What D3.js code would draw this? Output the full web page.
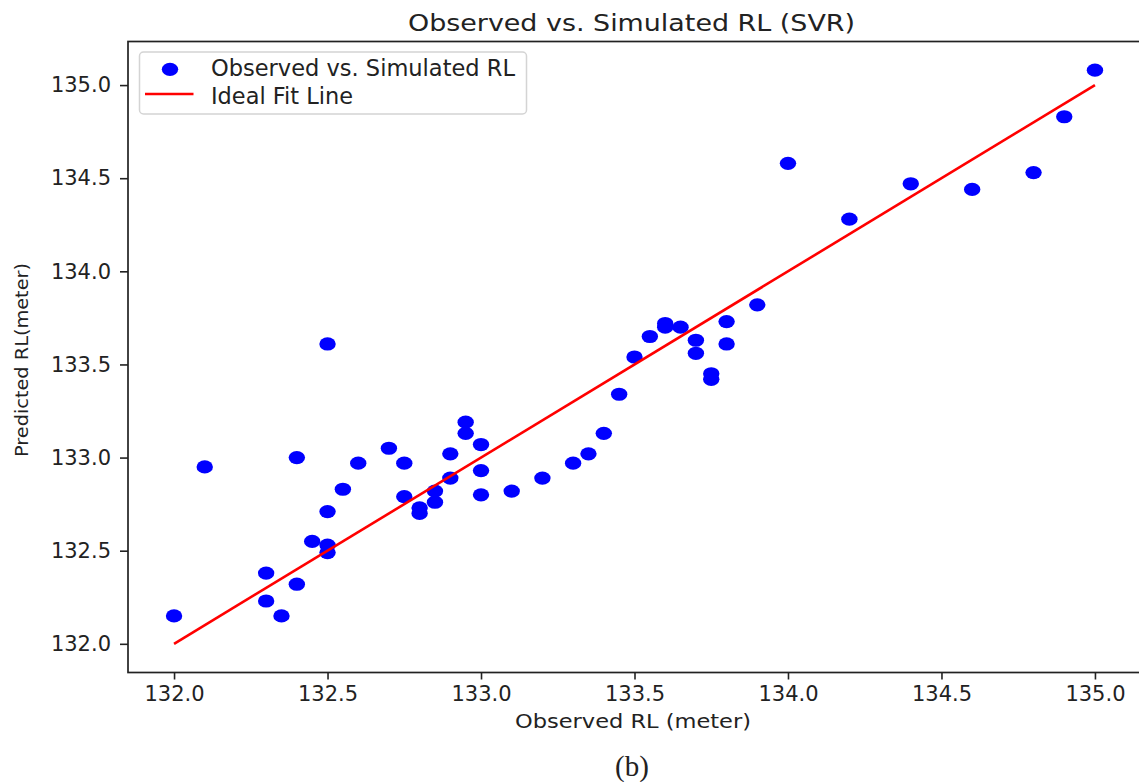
<!DOCTYPE html>
<html>
<head>
<meta charset="utf-8">
<script src="https://cdn.jsdelivr.net/npm/d3@7"></script>
<style>
  html, body { margin: 0; padding: 0; background: #fff; }
  svg { display: block; }
  text { font-family: "DejaVu Sans", sans-serif; fill: #222; }
</style>
</head>
<body>
<script>
// Observed water level (RL) vs. SVR-simulated water level, in metres
const observed = [
  132.0, 132.1, 132.3, 132.3, 132.35, 132.4, 132.4, 132.45, 132.5, 132.5,
  132.5, 132.5, 132.55, 132.6, 132.7, 132.75, 132.75, 132.8, 132.8, 132.85,
  132.85, 132.9, 132.9, 132.95, 132.95, 133.0, 133.0, 133.0, 133.1, 133.2,
  133.3, 133.35, 133.4, 133.45, 133.5, 133.55, 133.6, 133.6, 133.65, 133.7,
  133.7, 133.75, 133.75, 133.8, 133.8, 133.9, 134.0, 134.2, 134.4, 134.6,
  134.8, 134.9, 135.0
];
const predicted = [
  132.15, 132.95, 132.38, 132.23, 132.15, 133.0, 132.32, 132.55, 133.61, 132.71,
  132.53, 132.49, 132.83, 132.97, 133.05, 132.97, 132.79, 132.73, 132.70, 132.82,
  132.76, 133.02, 132.89, 133.19, 133.13, 133.07, 132.93, 132.80, 132.82, 132.89,
  132.97, 133.02, 133.13, 133.34, 133.54, 133.65, 133.72, 133.70, 133.70, 133.63,
  133.56, 133.45, 133.42, 133.73, 133.61, 133.82, 134.58, 134.28, 134.47, 134.44,
  134.53, 134.83, 135.08
];
// Ideal 1:1 fit line end points
const idealLine = [132.0, 135.0];
const xTicks = [132.0, 132.5, 133.0, 133.5, 134.0, 134.5, 135.0];
const yTicks = [132.0, 132.5, 133.0, 133.5, 134.0, 134.5, 135.0];
const legendLabels = ["Observed vs. Simulated RL", "Ideal Fit Line"];

const W = 1139, H = 782;
const plot = { left: 128, right: 1141, top: 41.5, bottom: 672.5 };

const svg = d3.select("body").append("svg")
  .attr("width", W).attr("height", H)
  .attr("viewBox", `0 0 ${W} ${H}`);
svg.append("rect").attr("width", W).attr("height", H).attr("fill", "#fff");

// Axis limits with 5% padding around the data range
const xAll = observed.concat(idealLine);
const yAll = predicted.concat(idealLine);
const pad = (lo, hi) => { const m = (hi - lo) * 0.05; return [lo - m, hi + m]; };
const x = d3.scaleLinear().domain(pad(d3.min(xAll), d3.max(xAll))).range([plot.left, plot.right]);
const y = d3.scaleLinear().domain(pad(d3.min(yAll), d3.max(yAll))).range([plot.bottom, plot.top]);

const fmt = d3.format(".1f");

// X axis
const gx = svg.append("g")
  .attr("transform", `translate(0,${plot.bottom})`)
  .call(d3.axisBottom(x).tickValues(xTicks).tickFormat(fmt).tickSize(7).tickPadding(7));
gx.select(".domain").remove();
gx.selectAll(".tick line").attr("stroke", "#222").attr("stroke-width", 1.6);
gx.selectAll(".tick text").style("font-size", "21px").attr("fill", "#222");

// Y axis
const gy = svg.append("g")
  .attr("transform", `translate(${plot.left},0)`)
  .call(d3.axisLeft(y).tickValues(yTicks).tickFormat(fmt).tickSize(8).tickPadding(9));
gy.select(".domain").remove();
gy.selectAll(".tick line").attr("stroke", "#222").attr("stroke-width", 1.6);
gy.selectAll(".tick text").style("font-size", "21px").attr("fill", "#222");

// Axes frame
svg.append("rect")
  .attr("x", plot.left).attr("y", plot.top)
  .attr("width", plot.right - plot.left).attr("height", plot.bottom - plot.top)
  .attr("fill", "none").attr("stroke", "#222").attr("stroke-width", 1.7);

// Scatter points
svg.append("g").selectAll("ellipse")
  .data(observed.map((o, i) => [o, predicted[i]]))
  .join("ellipse")
  .attr("cx", d => x(d[0])).attr("cy", d => y(d[1]))
  .attr("rx", 8.2).attr("ry", 6.6)
  .attr("fill", "#0000ff");

// Ideal fit line
svg.append("line")
  .attr("x1", x(idealLine[0])).attr("y1", y(idealLine[0]))
  .attr("x2", x(idealLine[1])).attr("y2", y(idealLine[1]))
  .attr("stroke", "#ff0000").attr("stroke-width", 2.6);

// Title
svg.append("text")
  .attr("x", 631.5).attr("y", 30.5)
  .attr("text-anchor", "middle")
  .attr("textLength", 447).attr("lengthAdjust", "spacingAndGlyphs")
  .style("font-size", "23px")
  .text("Observed vs. Simulated RL (SVR)");

// Axis labels
svg.append("text")
  .attr("x", 633).attr("y", 728)
  .attr("text-anchor", "middle")
  .attr("textLength", 236).attr("lengthAdjust", "spacingAndGlyphs")
  .style("font-size", "19.5px")
  .text("Observed RL (meter)");

svg.append("text")
  .attr("transform", "translate(28,360) rotate(-90)")
  .attr("text-anchor", "middle")
  .attr("textLength", 194).attr("lengthAdjust", "spacingAndGlyphs")
  .style("font-size", "18px")
  .text("Predicted RL(meter)");

// Legend
const lg = svg.append("g");
lg.append("rect")
  .attr("x", 139.5).attr("y", 52).attr("width", 387).attr("height", 62)
  .attr("rx", 4).attr("fill", "#fff").attr("fill-opacity", 0.8)
  .attr("stroke", "#d4d4d4").attr("stroke-width", 1.5);
lg.append("ellipse")
  .attr("cx", 170).attr("cy", 69.3).attr("rx", 8.2).attr("ry", 6.6)
  .attr("fill", "#0000ff");
lg.append("line")
  .attr("x1", 145).attr("x2", 193.5).attr("y1", 94).attr("y2", 94)
  .attr("stroke", "#ff0000").attr("stroke-width", 2.6);
lg.append("text")
  .attr("x", 211).attr("y", 75.5)
  .attr("textLength", 304).attr("lengthAdjust", "spacingAndGlyphs")
  .style("font-size", "22.5px")
  .text(legendLabels[0]);
lg.append("text")
  .attr("x", 211).attr("y", 103.5)
  .attr("textLength", 142).attr("lengthAdjust", "spacingAndGlyphs")
  .style("font-size", "22.5px")
  .text(legendLabels[1]);

// Panel caption
svg.append("text")
  .attr("x", 632).attr("y", 776)
  .attr("text-anchor", "middle")
  .style("font-family", "'Liberation Serif', 'Times New Roman', serif")
  .style("font-size", "29px")
  .attr("fill", "#111")
  .text("(b)");
</script>
</body>
</html>
